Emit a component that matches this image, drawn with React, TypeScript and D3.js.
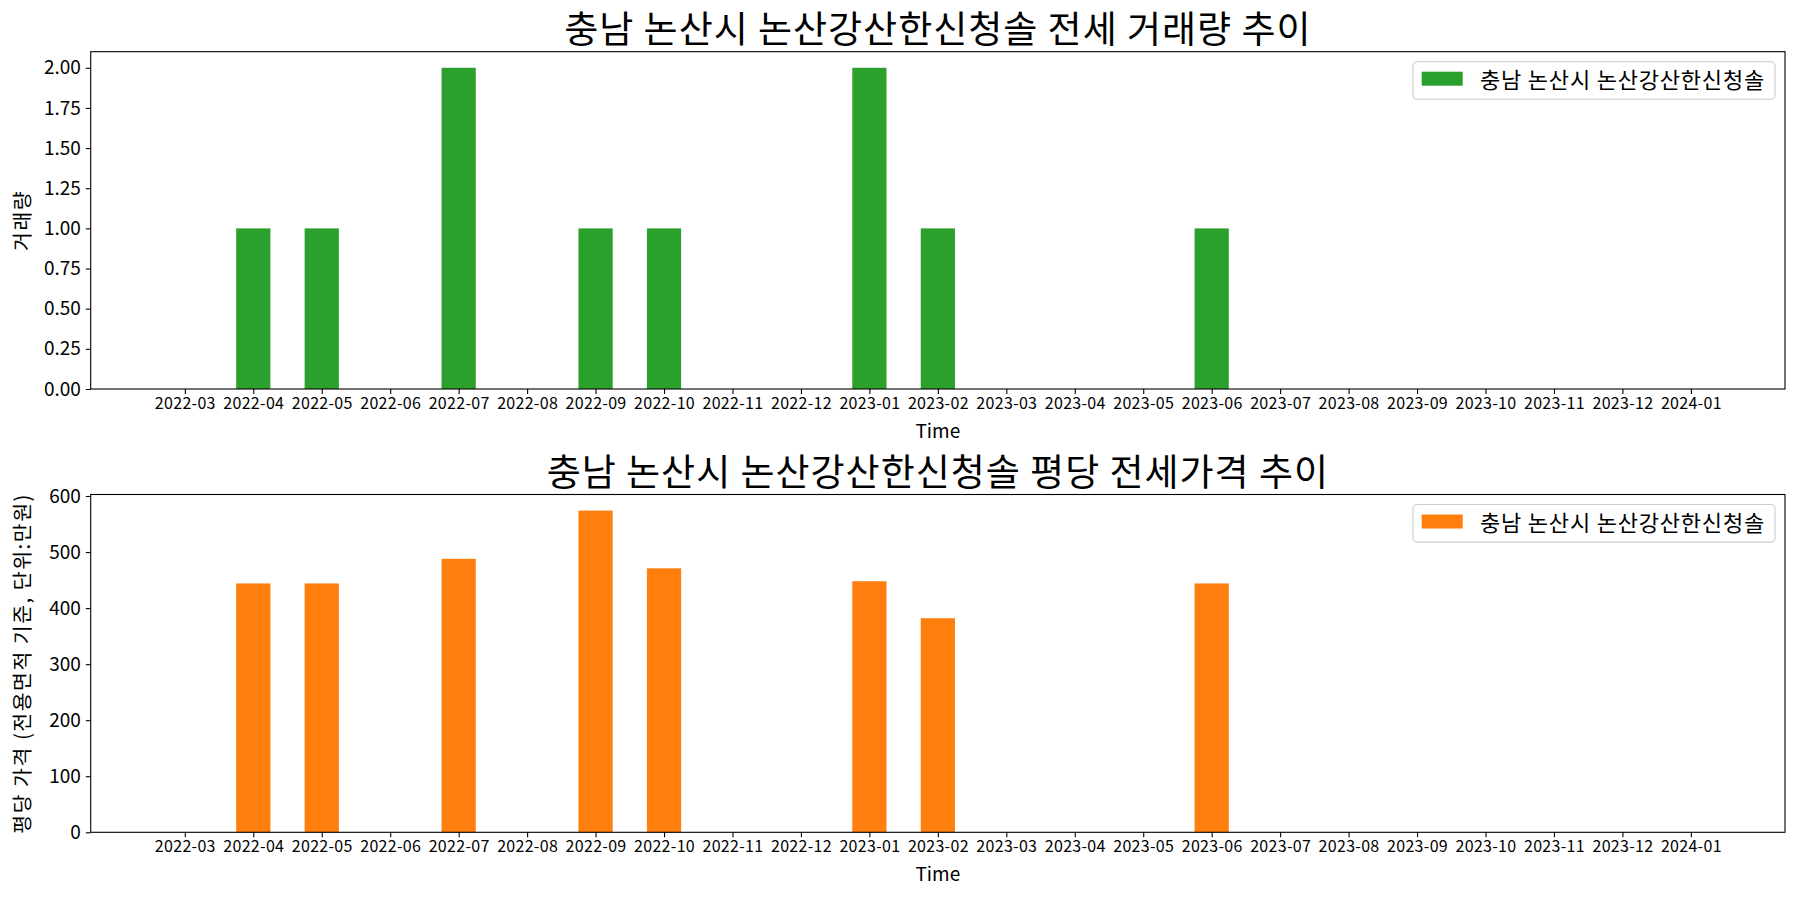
import { useEffect, useRef } from "react";
import * as d3 from "d3";

const months = [
  "2022-03", "2022-04", "2022-05", "2022-06", "2022-07", "2022-08",
  "2022-09", "2022-10", "2022-11", "2022-12", "2023-01", "2023-02",
  "2023-03", "2023-04", "2023-05", "2023-06", "2023-07", "2023-08",
  "2023-09", "2023-10", "2023-11", "2023-12", "2024-01",
];

// 거래량 (건)
const counts = [0, 1, 1, 0, 2, 0, 1, 1, 0, 0, 2, 1, 0, 0, 0, 1, 0, 0, 0, 0, 0, 0, 0];

// 평당 전세가격 (만원)
const prices = [0, 444, 444, 0, 488, 0, 574, 471, 0, 0, 448, 382, 0, 0, 0, 444, 0, 0, 0, 0, 0, 0, 0];

const countTicks = [0, 0.25, 0.5, 0.75, 1, 1.25, 1.5, 1.75, 2];
const priceTicks = [0, 100, 200, 300, 400, 500, 600];

const legendLabel = "충남 논산시 논산강산한신청솔";
const FONT = "'Noto Sans CJK KR', 'Noto Sans', sans-serif";

function App() {
  const svgRef = useRef<SVGSVGElement>(null);

  useEffect(() => {
    const width = 1800;
    const height = 900;
    const left = 90.7;
    const right = 1785;

    const svg = d3.select(svgRef.current);
    svg.selectAll("*").remove();
    svg.attr("width", width).attr("height", height).style("font-family", FONT);

    svg.append("rect").attr("width", width).attr("height", height).attr("fill", "#fff");

    const x = d3.scalePoint<string>().domain(months).range([left, right]).padding(1.375);
    const barW = x.step() * 0.5;

    const panels = [
      {
        top: 51.7,
        bottom: 389,
        values: counts,
        ticks: countTicks,
        fmt: d3.format(".2f"),
        color: "#2ca02c",
        title: "충남 논산시 논산강산한신청솔 전세 거래량 추이",
        ylabel: "거래량",
      },
      {
        top: 494.5,
        bottom: 832.3,
        values: prices,
        ticks: priceTicks,
        fmt: d3.format("d"),
        color: "#ff7f0e",
        title: "충남 논산시 논산강산한신청솔 평당 전세가격 추이",
        ylabel: "평당 가격 (전용면적 기준, 단위:만원)",
      },
    ];

    panels.forEach((p) => {
      const y = d3
        .scaleLinear()
        .domain([0, d3.max(p.values)! * 1.05])
        .range([p.bottom, p.top]);

      const g = svg.append("g");

      // bars
      g.selectAll("rect.bar")
        .data(months)
        .enter()
        .append("rect")
        .attr("class", "bar")
        .attr("x", (d) => x(d)! - barW / 2)
        .attr("width", barW)
        .attr("y", (d, i) => y(p.values[i]))
        .attr("height", (d, i) => y(0) - y(p.values[i]))
        .attr("fill", p.color);

      // x axis
      const xAxis = g
        .append("g")
        .attr("transform", `translate(0,${p.bottom})`)
        .call(d3.axisBottom(x).tickSize(4.9).tickPadding(3.5));
      xAxis.select(".domain").remove();
      xAxis.selectAll("line").attr("stroke", "#000").attr("stroke-width", 1.1);
      xAxis
        .selectAll("text")
        .attr("fill", "#000")
        .style("font-family", FONT)
        .style("font-size", "16px")
        .style("letter-spacing", "0.3px");

      // y axis
      const yAxis = g
        .append("g")
        .attr("transform", `translate(${left},0)`)
        .call(
          d3
            .axisLeft(y)
            .tickValues(p.ticks)
            .tickFormat((d) => p.fmt(d as number))
            .tickSize(4.9)
            .tickPadding(4.9)
        );
      yAxis.select(".domain").remove();
      yAxis.selectAll("line").attr("stroke", "#000").attr("stroke-width", 1.1);
      yAxis
        .selectAll("text")
        .attr("fill", "#000")
        .style("font-family", FONT)
        .style("font-size", "19px");

      // frame
      g.append("rect")
        .attr("x", left)
        .attr("y", p.top)
        .attr("width", right - left)
        .attr("height", p.bottom - p.top)
        .attr("fill", "none")
        .attr("stroke", "#000")
        .attr("stroke-width", 1.1);

      // title
      g.append("text")
        .attr("x", (left + right) / 2)
        .attr("y", p.top - 8.5)
        .attr("text-anchor", "middle")
        .style("font-size", "37px")
        .style("letter-spacing", "1px")
        .text(p.title);

      // x label
      g.append("text")
        .attr("x", (left + right) / 2)
        .attr("y", p.bottom + 48.5)
        .attr("text-anchor", "middle")
        .style("font-size", "19px")
        .text("Time");

      // y label
      g.append("text")
        .attr("transform", `translate(30,${(p.top + p.bottom) / 2}) rotate(-90)`)
        .attr("text-anchor", "middle")
        .style("font-size", "20.5px")
        .style("letter-spacing", "1.5px")
        .text(p.ylabel);

      // legend
      const lg = g.append("g").attr("transform", `translate(1413,${p.top + 10})`);
      lg.append("rect")
        .attr("width", 362)
        .attr("height", 37.6)
        .attr("rx", 4)
        .attr("fill", "#fff")
        .attr("fill-opacity", 0.8)
        .attr("stroke", "#cccccc")
        .attr("stroke-width", 1.1);
      lg.append("rect")
        .attr("x", 8.7)
        .attr("y", 10)
        .attr("width", 41)
        .attr("height", 14)
        .attr("fill", p.color);
      lg.append("text")
        .attr("x", 67)
        .attr("y", 26.5)
        .style("font-size", "22px")
        .style("letter-spacing", "0.8px")
        .text(legendLabel);
    });
  }, []);

  return (
    <svg
      ref={svgRef}
      style={{ position: "absolute", left: 0, top: 0, display: "block" }}
    ></svg>
  );
}

export default App;
